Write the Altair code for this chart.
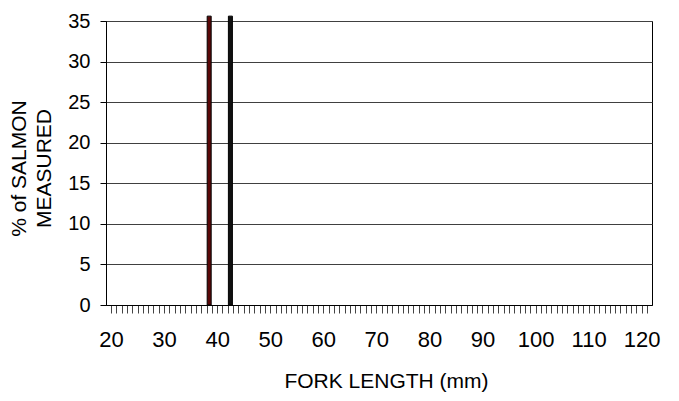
import altair as alt
import pandas as pd

# fork length bins (mm, bin centre) and share of salmon measured (%)
lengths = [38.5, 42.5]
percents = [35.6, 35.6]
fills = ["#5a0808", "#101010"]

x_ticks = list(range(20, 122))
y_ticks = [0, 5, 10, 15, 20, 25, 30, 35]

df = pd.DataFrame({"length": lengths, "pct": percents, "fill": fills})

font = "Liberation Sans, Arial"

chart = (
    alt.Chart(df)
    .mark_bar(size=4, stroke="black", strokeWidth=1, clip=False)
    .encode(
        alt.X(
            "length:Q",
            scale=alt.Scale(domain=[20, 121], nice=False, zero=False),
            axis=alt.Axis(
                values=x_ticks,
                labelExpr="datum.value % 10 === 0 ? datum.label : ''",
                labelOverlap=False,
                labelFont=font,
                labelFontSize=22,
                labelColor="black",
                labelPadding=16,
                tickSize=8,
                tickColor="#444",
                domainColor="black",
                grid=False,
                title="FORK LENGTH (mm)",
                titleFont=font,
                titleFontSize=21,
                titleFontWeight="normal",
                titleColor="black",
                titleX=280,
                titleY=76,
                titleBaseline="middle",
            ),
        ),
        alt.Y(
            "pct:Q",
            scale=alt.Scale(domain=[0, 35], nice=False, clamp=False),
            axis=alt.Axis(
                values=y_ticks,
                labelFont=font,
                labelFontSize=20,
                labelColor="black",
                labelPadding=10,
                tickSize=6,
                tickColor="black",
                domainColor="black",
                gridColor="#404040",
                gridOpacity=1,
                title=["% of SALMON", "MEASURED"],
                titleFont=font,
                titleFontSize=21,
                titleFontWeight="normal",
                titleColor="black",
                titleLineHeight=25,
                titleAngle=-90,
                titleAlign="center",
                titleBaseline="middle",
                titleX=-87,
                titleY=147,
            ),
        ),
        alt.Fill("fill:N", scale=None),
    )
    .properties(
        width=546,
        height=284,
        padding={"left": 98, "top": 13, "right": 19, "bottom": 88},
        autosize=alt.AutoSizeParams(type="none"),
    )
    .configure_view(stroke="black", strokeWidth=1)
)

chart.save("out.html", embed_options={"renderer": "svg", "actions": False})
